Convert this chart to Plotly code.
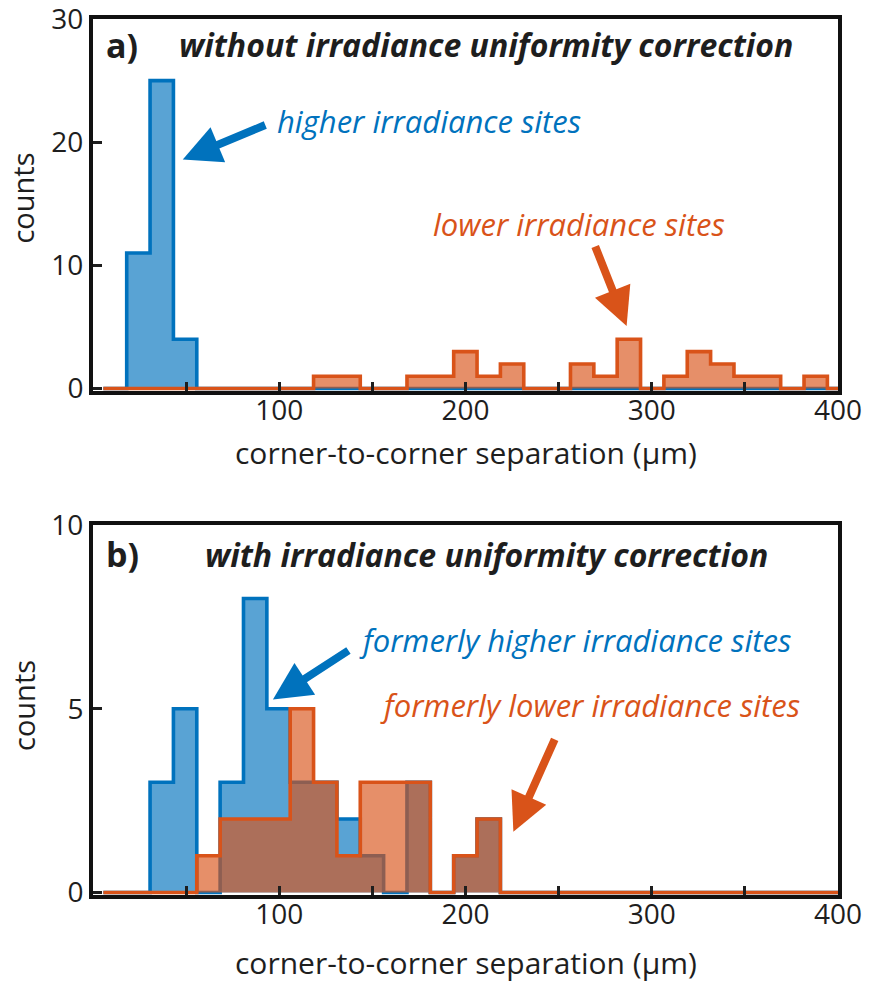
import plotly.graph_objects as go

# Shared histogram bin grid (µm)
bin_start = 5.56
bin_width = 12.54
n_bins = 32
edges = [bin_start + i * bin_width for i in range(n_bins + 1)]

# a) without irradiance uniformity correction
counts_a_higher = [0, 11, 25, 4, 0, 0, 0, 0, 0, 0, 0, 0, 0, 0, 0, 0,
                   0, 0, 0, 0, 0, 0, 0, 0, 0, 0, 0, 0, 0, 0, 0, 0]
counts_a_lower = [0, 0, 0, 0, 0, 0, 0, 0, 0, 1, 1, 0, 0, 1, 1, 3,
                  1, 2, 0, 0, 2, 1, 4, 0, 1, 3, 2, 1, 1, 0, 1, 0]

# b) with irradiance uniformity correction
counts_b_higher = [0, 0, 3, 5, 0, 3, 8, 5, 3, 3, 2, 1, 0, 3, 0, 1,
                   2, 0, 0, 0, 0, 0, 0, 0, 0, 0, 0, 0, 0, 0, 0, 0]
counts_b_lower = [0, 0, 0, 0, 1, 2, 2, 2, 5, 3, 1, 3, 3, 3, 0, 1,
                  2, 0, 0, 0, 0, 0, 0, 0, 0, 0, 0, 0, 0, 0, 0, 0]

x_ticks = [0, 50, 100, 150, 200, 250, 300, 350, 400]
x_ticktext = ["", "", "100", "", "200", "", "300", "", "400"]
y_ticks_a = [0, 10, 20, 30]
y_ticks_b = [0, 5, 10]

BLUE = "#0072BD"
ORANGE = "#D95319"
BLUE_FILL = "rgba(0,114,189,0.65)"
ORANGE_FILL = "rgba(217,83,25,0.65)"
INK = "#1e1e1e"
FONT = "Open Sans"


def stairs(counts, line_color, fill_color, xa, ya):
    return go.Scatter(
        x=edges,
        y=list(counts) + [counts[-1]],
        mode="lines",
        line=dict(color=line_color, width=3.6, shape="hv"),
        fill="tozeroy",
        fillcolor=fill_color,
        xaxis=xa,
        yaxis=ya,
        hoverinfo="skip",
        showlegend=False,
    )


fig = go.Figure()
fig.add_trace(stairs(counts_a_higher, BLUE, BLUE_FILL, "x", "y"))
fig.add_trace(stairs(counts_a_lower, ORANGE, ORANGE_FILL, "x", "y"))
fig.add_trace(stairs(counts_b_higher, BLUE, BLUE_FILL, "x2", "y2"))
fig.add_trace(stairs(counts_b_lower, ORANGE, ORANGE_FILL, "x2", "y2"))

xaxis_common = dict(
    range=[0, 400],
    tickvals=x_ticks,
    ticktext=x_ticktext,
    ticks="inside",
    ticklen=9,
    tickwidth=3,
    tickcolor=INK,
    ticklabelstandoff=-9,
    showline=True,
    linecolor="#111111",
    linewidth=4,
    mirror=True,
    showgrid=False,
    zeroline=False,
    automargin=False,
    tickfont=dict(family=FONT, size=28, color=INK),
)
yaxis_common = dict(
    ticks="inside",
    ticklen=9,
    tickwidth=3,
    tickcolor=INK,
    ticklabeloverflow="allow",
    showline=True,
    linecolor="#111111",
    linewidth=4,
    mirror=True,
    showgrid=False,
    zeroline=False,
    automargin=False,
    tickfont=dict(family=FONT, size=28, color=INK),
)

fig.update_layout(
    template="none",
    width=870,
    height=988,
    margin=dict(l=93, r=32, t=19, b=93),
    paper_bgcolor="white",
    plot_bgcolor="white",
    xaxis=dict(xaxis_common, domain=[0, 1], anchor="y"),
    yaxis=dict(yaxis_common, domain=[0.5753, 1], range=[-0.2, 30],
               tickvals=y_ticks_a, anchor="x"),
    xaxis2=dict(xaxis_common, domain=[0, 1], anchor="y2"),
    yaxis2=dict(yaxis_common, domain=[0, 0.4224], range=[-0.07, 10],
                tickvals=y_ticks_b, anchor="x2"),
)

label_font = dict(family=FONT, size=29, color=INK)
xtitle_font = dict(family=FONT, size=30, color=INK)
annotations = [
    # axis titles
    dict(x=0.5, y=0.5057, xref="paper", yref="paper",
         text="corner-to-corner separation (µm)", showarrow=False,
         xanchor="center", yanchor="middle", font=xtitle_font),
    dict(x=0.5, y=-0.0775, xref="paper", yref="paper",
         text="corner-to-corner separation (µm)", showarrow=False,
         xanchor="center", yanchor="middle", font=xtitle_font),
    dict(x=-0.094, y=15.5, xref="paper", yref="y", text="counts",
         textangle=-90, showarrow=False, xanchor="center", yanchor="middle",
         font=label_font),
    dict(x=-0.094, y=5.1, xref="paper", yref="y2", text="counts",
         textangle=-90, showarrow=False, xanchor="center", yanchor="middle",
         font=label_font),
    # panel labels and titles
    dict(x=6, y=27.9, xref="x", yref="y", text="<b>a)</b>", showarrow=False,
         xanchor="left", yanchor="middle",
         font=dict(family=FONT, size=34, color=INK)),
    dict(x=45, y=27.9, xref="x", yref="y",
         text="<b><i>without irradiance uniformity correction</i></b>",
         showarrow=False, xanchor="left", yanchor="middle",
         font=dict(family=FONT, size=32, color=INK)),
    dict(x=6, y=9.2, xref="x2", yref="y2", text="<b>b)</b>", showarrow=False,
         xanchor="left", yanchor="middle",
         font=dict(family=FONT, size=34, color=INK)),
    dict(x=59, y=9.2, xref="x2", yref="y2",
         text="<b><i>with irradiance uniformity correction</i></b>",
         showarrow=False, xanchor="left", yanchor="middle",
         font=dict(family=FONT, size=32, color=INK)),
    # series labels
    dict(x=180.4, y=21.7, xref="x", yref="y", text="<i>higher irradiance sites</i>",
         showarrow=False, xanchor="center", yanchor="middle",
         font=dict(family=FONT, size=31, color=BLUE)),
    dict(x=261, y=13.35, xref="x", yref="y", text="<i>lower irradiance sites</i>",
         showarrow=False, xanchor="center", yanchor="middle",
         font=dict(family=FONT, size=31, color=ORANGE)),
    dict(x=258.8, y=6.86, xref="x2", yref="y2",
         text="<i>formerly higher irradiance sites</i>",
         showarrow=False, xanchor="center", yanchor="middle",
         font=dict(family=FONT, size=31, color=BLUE)),
    dict(x=266.8, y=5.1, xref="x2", yref="y2",
         text="<i>formerly lower irradiance sites</i>",
         showarrow=False, xanchor="center", yanchor="middle",
         font=dict(family=FONT, size=31, color=ORANGE)),
]

# arrows pointing at the two populations
arrow_style = dict(showarrow=True, arrowhead=2, arrowsize=0.95, arrowwidth=8,
                   standoff=0, text="", axref="pixel", ayref="pixel")
annotations += [
    dict(arrow_style, x=48.2, y=18.6, xref="x", yref="y", ax=84, ay=-35,
         arrowcolor=BLUE),
    dict(arrow_style, x=286.5, y=5.08, xref="x", yref="y", ax=-32, ay=-81,
         arrowcolor=ORANGE),
    dict(arrow_style, x=96.6, y=5.25, xref="x2", yref="y2", ax=77, ay=-50,
         arrowcolor=BLUE),
    dict(arrow_style, x=225.7, y=1.65, xref="x2", yref="y2", ax=42, ay=-94,
         arrowcolor=ORANGE),
]
fig.update_layout(annotations=annotations)

fig.write_html("out.html")
